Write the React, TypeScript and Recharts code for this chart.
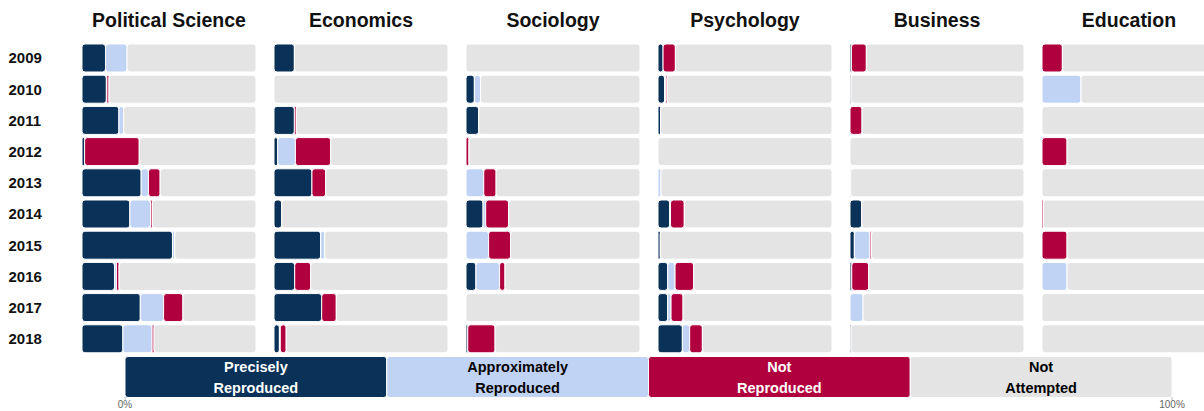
import React from "react";
import { BarChart, Bar, XAxis, YAxis, LabelList } from "recharts";

// ---- data (percent of papers per field and year) ----
const years = ["2009", "2010", "2011", "2012", "2013", "2014", "2015", "2016", "2017", "2018"];
const fields = ["Political Science", "Economics", "Sociology", "Psychology", "Business", "Education"];

// rows follow `fields`, columns follow `years`
const preciselyReproduced = [
  [13.5, 14, 21.2, 1.5, 34, 27.5, 52, 18.7, 33.5, 23.5],
  [11.7, 0, 11.7, 2.1, 21.8, 4.4, 26.8, 11.9, 27.4, 3.1],
  [0, 4.8, 7.3, 0, 0, 9.8, 0, 5.7, 0, 1],
  [2.9, 3.8, 1.5, 0, 0, 6.7, 1.3, 5.6, 5.6, 14],
  [0.8, 0.6, 0, 0, 0.4, 6.7, 2.5, 1, 0, 0.6],
  [0, 0, 0, 0, 0, 0, 0, 0, 0, 0],
];
const approximatelyReproduced = [
  [12.4, 0.3, 2.7, 0, 4.2, 11.9, 1.3, 1.1, 13.4, 16.8],
  [0, 0, 0, 10.2, 0, 0, 2.3, 0, 0, 0.5],
  [0, 3.6, 0, 0, 10.2, 1.5, 13, 13.6, 0, 0],
  [0, 0.6, 0, 0, 1.7, 0.5, 0, 4.2, 1.9, 4.2],
  [0, 0, 0, 0, 0, 0, 9, 0, 7.5, 0],
  [0, 22.4, 0, 0, 0, 0, 0, 14.4, 0, 0],
];
const notReproduced = [
  [0, 1.2, 0, 31.4, 6.7, 1, 0, 1.5, 11.1, 1.1],
  [0, 0, 1.1, 20.3, 7.9, 0, 0, 9.2, 8.4, 3.4],
  [0, 0, 0, 1.7, 7.1, 13.2, 12.6, 3.1, 0, 15.7],
  [7.1, 0.8, 0, 0, 0, 7.9, 0, 10.7, 6.9, 7.3],
  [8.6, 0, 6.9, 0, 0, 0, 0.8, 9.8, 0, 0],
  [11.7, 0, 0, 14.4, 0, 0.8, 14.4, 0, 0, 0],
];

const legendLabels = [
  ["Precisely", "Reproduced"],
  ["Approximately", "Reproduced"],
  ["Not", "Reproduced"],
  ["Not", "Attempted"],
];
const legendShares = [25, 25, 25, 25];
const legendTicks = [0, 100];

const COLORS = ["#0a3157", "#c1d3f4", "#b1003e", "#e4e4e4"];
const TEXT_COLORS = ["#ffffff", "#000000", "#ffffff", "#000000"];
const KEYS = ["precise", "approx", "notRep", "notAtt"];
const FONT = '"Liberation Sans", Arial, Helvetica, sans-serif';

const PANEL_X0 = 82;
const PANEL_PITCH = 192;
const PANEL_W = 174;
const BAND = 31.2;
const BAR_H = 28;
const TOP = 42.4;

function rowsFor(fi: number) {
  return years.map((y, i) => {
    const p = preciselyReproduced[fi][i];
    const a = approximatelyReproduced[fi][i];
    const n = notReproduced[fi][i];
    return { year: y, precise: p, approx: a, notRep: n, notAtt: Math.max(0, 100 - p - a - n) };
  });
}

const YearTick = (props: any) => (
  <text
    x={8.5}
    y={props.y}
    dy="0.36em"
    textAnchor="start"
    fontFamily={FONT}
    fontWeight="bold"
    fontSize={15}
    fill="#111"
  >
    {props.payload.value}
  </text>
);

function Panel({ fi }: { fi: number }) {
  const first = fi === 0;
  const axisW = first ? PANEL_X0 : 0;
  const left = PANEL_X0 + PANEL_PITCH * fi - axisW;
  const data = rowsFor(fi);
  return (
    <div style={{ position: "absolute", left, top: 0 }}>
      <BarChart
        width={PANEL_W + axisW}
        height={TOP + BAND * years.length}
        data={data}
        layout="vertical"
        margin={{ top: TOP, right: 0, bottom: 0, left: 0 }}
        barCategoryGap={(BAND - BAR_H) / 2}
      >
        <XAxis type="number" domain={[0, 100]} hide />
        <YAxis
          type="category"
          dataKey="year"
          width={axisW}
          hide={!first}
          axisLine={false}
          tickLine={false}
          tick={YearTick}
          interval={0}
        />
        {KEYS.map((k, i) => (
          <Bar
            key={k}
            dataKey={k}
            stackId="s"
            fill={COLORS[i]}
            stroke="#ffffff"
            strokeWidth={1}
            radius={3}
            isAnimationActive={false}
          />
        ))}
      </BarChart>
    </div>
  );
}

const legendData = [
  {
    name: "legend",
    precise: legendShares[0],
    approx: legendShares[1],
    notRep: legendShares[2],
    notAtt: legendShares[3],
  },
];

function makeLegendLabel(i: number) {
  return (props: any) => {
    const { x, y, width, height } = props;
    const cx = x + width / 2;
    const cy = y + height / 2;
    const [l1, l2] = legendLabels[i];
    return (
      <text
        textAnchor="middle"
        fontFamily={FONT}
        fontWeight="bold"
        fontSize={14.5}
        fill={TEXT_COLORS[i]}
      >
        <tspan x={cx} y={cy - 10.5} dy="0.36em">{l1}</tspan>
        <tspan x={cx} y={cy + 10.5} dy="0.36em">{l2}</tspan>
      </text>
    );
  };
}

const LEG_TOP = 340;
const LEG_BAR_TOP = 356.5;
const LEG_BAR_H = 40.5;

function Legend() {
  return (
    <div style={{ position: "absolute", left: 0, top: LEG_TOP }}>
      <BarChart
        width={1204}
        height={411 - LEG_TOP}
        data={legendData}
        layout="vertical"
        margin={{ top: LEG_BAR_TOP - LEG_TOP, right: 32, bottom: 0, left: 125 }}
        barCategoryGap={0}
      >
        <XAxis
          type="number"
          domain={[0, 100]}
          ticks={legendTicks}
          interval={0}
          tickFormatter={(v: number) => `${v}%`}
          axisLine={false}
          tickLine={{ stroke: "#bbbbbb" }}
          tickSize={3}
          tickMargin={1}
          height={411 - LEG_BAR_TOP - LEG_BAR_H}
          tick={{ fontSize: 10, fill: "#666666", fontFamily: FONT }}
        />
        <YAxis type="category" dataKey="name" hide />
        {KEYS.map((k, i) => (
          <Bar
            key={k}
            dataKey={k}
            stackId="l"
            fill={COLORS[i]}
            stroke="#ffffff"
            strokeWidth={1}
            radius={3}
            isAnimationActive={false}
          >
            <LabelList dataKey={k} content={makeLegendLabel(i)} />
          </Bar>
        ))}
      </BarChart>
    </div>
  );
}

export default function App() {
  return (
    <div
      style={{
        position: "absolute",
        left: 0,
        top: 0,
        width: 1204,
        height: 411,
        overflow: "hidden",
        background: "#ffffff",
        fontFamily: FONT,
      }}
    >
      {fields.map((f, fi) => (
        <div
          key={f}
          style={{
            position: "absolute",
            left: PANEL_X0 + PANEL_PITCH * fi,
            top: 10.25,
            width: PANEL_W,
            textAlign: "center",
            fontSize: 19.5,
            lineHeight: "20px",
            fontWeight: "bold",
            color: "#111",
            whiteSpace: "nowrap",
          }}
        >
          {f}
        </div>
      ))}
      {fields.map((f, fi) => (
        <Panel key={f} fi={fi} />
      ))}
      <Legend />
    </div>
  );
}
